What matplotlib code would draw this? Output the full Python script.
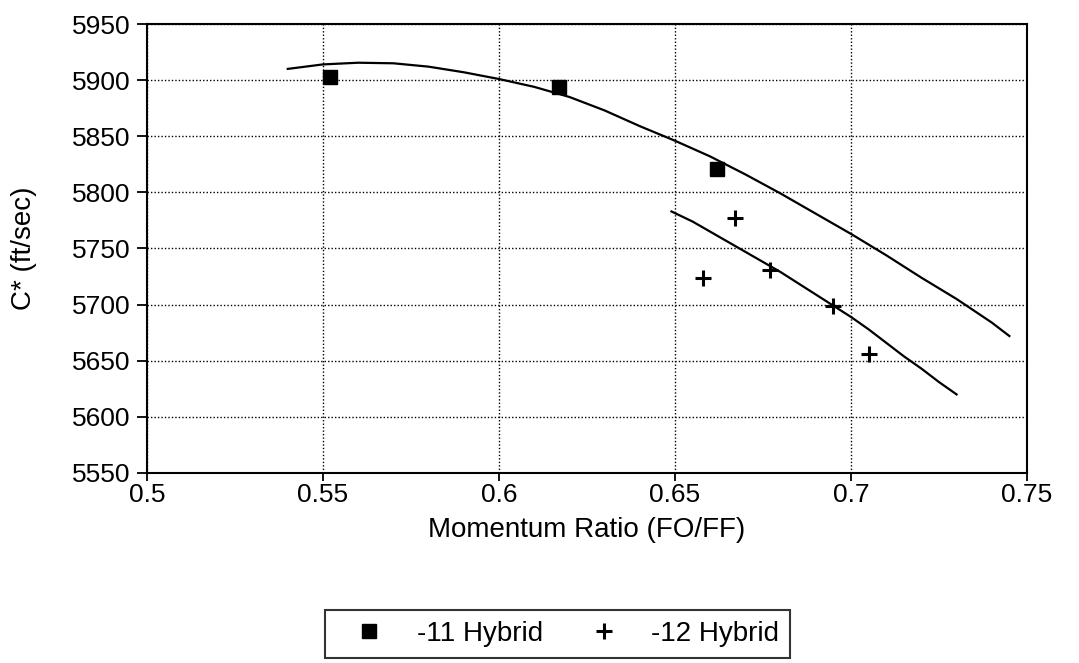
import matplotlib
matplotlib.use("Agg")
import matplotlib.pyplot as plt
from matplotlib.lines import Line2D

plt.rcParams['font.family'] = ['Liberation Sans', 'DejaVu Sans']

# Data points
h11_x = [0.552, 0.617, 0.662]
h11_y = [5903, 5894, 5821]
h12_x = [0.658, 0.667, 0.677, 0.695, 0.705]
h12_y = [5724, 5777, 5731, 5699, 5656]

# Fitted curves
fit11_x = [0.540, 0.550, 0.560, 0.570, 0.580, 0.590, 0.600, 0.610, 0.620, 0.630, 0.640,
           0.650, 0.660, 0.670, 0.680, 0.690, 0.700, 0.710, 0.720, 0.730, 0.740, 0.745]
fit11_y = [5910, 5914, 5915.5, 5915, 5912, 5907, 5901, 5894, 5885, 5873, 5859,
           5846, 5832, 5816, 5799, 5781, 5763, 5744, 5724, 5705, 5684, 5672]
fit12_x = [0.649, 0.655, 0.660, 0.665, 0.670, 0.675, 0.680, 0.685, 0.690, 0.695,
           0.700, 0.705, 0.710, 0.715, 0.720, 0.725, 0.730]
fit12_y = [5783, 5774, 5765, 5756, 5747, 5738, 5729, 5719, 5709, 5699,
           5689, 5678, 5666, 5654, 5643, 5631, 5620]

xticks = [0.5, 0.55, 0.6, 0.65, 0.7, 0.75]
xticklabels = ['0.5', '0.55', '0.6', '0.65', '0.7', '0.75']
yticks = [5550, 5600, 5650, 5700, 5750, 5800, 5850, 5900, 5950]

fig = plt.figure(figsize=(10.79, 6.63), dpi=100)
ax = fig.add_axes([0.1362, 0.2866, 0.9518 - 0.1362, 0.9638 - 0.2866])

ax.plot(fit11_x, fit11_y, color='black', lw=1.6, zorder=3)
ax.plot(fit12_x, fit12_y, color='black', lw=1.6, zorder=3)
ax.plot(h11_x, h11_y, linestyle='none', marker='s', markersize=10, color='black', zorder=4)
ax.plot(h12_x, h12_y, linestyle='none', marker='+', markersize=12, markeredgewidth=2.2, color='black', zorder=4)

ax.set_xlim(0.5, 0.75)
ax.set_ylim(5550, 5950)
ax.set_xticks(xticks)
ax.set_xticklabels(xticklabels)
ax.set_yticks(yticks)
ax.grid(True, color='black', linestyle=(0, (1, 1.5)), linewidth=1.0)
ax.set_axisbelow(True)
for s in ax.spines.values():
    s.set_linewidth(1.5)
    s.set_color('black')
ax.tick_params(axis='x', direction='out', length=6, width=1.3, labelsize=19, colors='black', pad=1.5)
ax.tick_params(axis='y', direction='out', length=7, width=1.3, labelsize=19, colors='black', pad=5)

ax.set_xlabel('Momentum Ratio (FO/FF)', fontsize=20)
ax.set_ylabel('C* (ft/sec)', fontsize=20)
ax.xaxis.set_label_coords(0.5, -0.098)
ax.yaxis.set_label_coords(-0.125, 0.5)

handles = [
    Line2D([], [], linestyle='none', marker='s', markersize=10, color='black'),
    Line2D([], [], linestyle='none', marker='+', markersize=12, markeredgewidth=2.2, color='black'),
]
leg = fig.legend(handles, ['-11 Hybrid', '-12 Hybrid'], loc='upper left',
                 bbox_to_anchor=(0.3012, 0.0799), ncol=2, fontsize=20,
                 frameon=True, fancybox=False, edgecolor='black',
                 handlelength=2.4, handletextpad=0.5, columnspacing=1.0,
                 borderpad=0.4, borderaxespad=0)
leg.get_frame().set_linewidth(1.5)

fig.savefig('out.png', dpi=100)
